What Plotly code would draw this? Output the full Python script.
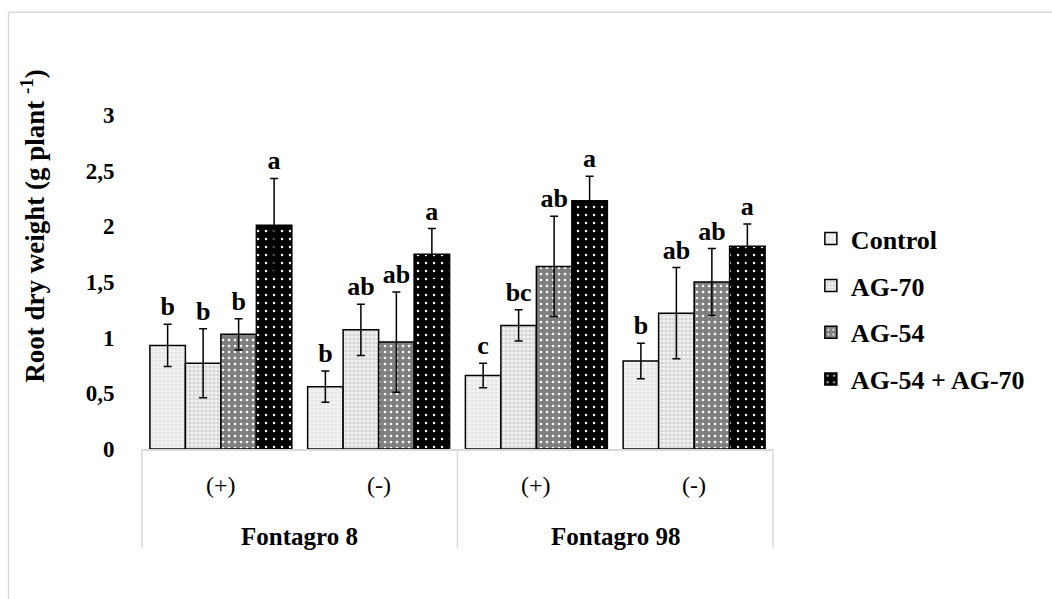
import plotly.graph_objects as go

cultivars = ["Fontagro 8", "Fontagro 8", "Fontagro 98", "Fontagro 98"]
treatments = ["(+)", "(-)", "(+)", "(-)"]
series_names = ["Control", "AG-70", "AG-54", "AG-54 + AG-70"]

control = [0.93, 0.56, 0.66, 0.79]
control_err = [0.19, 0.14, 0.11, 0.16]
control_letters = ["b", "b", "c", "b"]

ag70 = [0.77, 1.07, 1.11, 1.22]
ag70_err = [0.31, 0.23, 0.14, 0.41]
ag70_letters = ["b", "ab", "bc", "ab"]

ag54 = [1.03, 0.96, 1.64, 1.50]
ag54_err = [0.14, 0.45, 0.45, 0.30]
ag54_letters = ["b", "ab", "ab", "ab"]

combo = [2.01, 1.75, 2.23, 1.82]
combo_err = [0.42, 0.23, 0.22, 0.20]
combo_letters = ["a", "a", "a", "a"]

y_tickvals = [0, 0.5, 1, 1.5, 2, 2.5, 3]
y_ticktext = ["0", "0,5", "1", "1,5", "2", "2,5", "3"]

FONT = "Liberation Serif, Times New Roman, serif"
GRAY = "#d9d9d9"

styles = [
    dict(bg="#f5f5f5", fg="#e4e4e4", shape=".", size=4, solidity=0.5),
    dict(bg="#dadada", fg="#f8f8f8", shape=".", size=4, solidity=0.35),
    dict(bg="#7f7f7f", fg="#ffffff", shape=".", size=6, solidity=0.15),
    dict(bg="#000000", fg="#ffffff", shape=".", size=8, solidity=0.08),
]

x_multi = [cultivars, treatments]

data_sets = [
    (control, control_err, control_letters),
    (ag70, ag70_err, ag70_letters),
    (ag54, ag54_err, ag54_letters),
    (combo, combo_err, combo_letters),
]

fig = go.Figure()
for i, (name, (vals, errs, letters), st) in enumerate(zip(series_names, data_sets, styles)):
    fig.add_trace(go.Bar(
        name=name,
        x=x_multi,
        y=vals,
        offsetgroup=str(i),
        legendgroup=str(i),
        marker=dict(
            color=st["bg"],
            line=dict(color="black", width=1.5),
            pattern=dict(shape=st["shape"], fgcolor=st["fg"], bgcolor=st["bg"],
                         size=st["size"], solidity=st["solidity"], fillmode="replace"),
        ),
        error_y=dict(type="data", array=errs, visible=True, color="black",
                     thickness=1.5, width=4),
    ))

for i, (vals, errs, letters) in enumerate(data_sets):
    tops = [v + e for v, e in zip(vals, errs)]
    fig.add_trace(go.Bar(
        x=x_multi,
        y=tops,
        offsetgroup=str(i),
        legendgroup=str(i),
        showlegend=False,
        hoverinfo="skip",
        marker=dict(color="rgba(0,0,0,0)", line=dict(width=0)),
        text=letters,
        textposition="outside",
        textangle=0,
        constraintext="none",
        cliponaxis=False,
        textfont=dict(family=FONT, size=26, color="black", weight="bold"),
    ))

n_cat = len(treatments)
annotations = []
# inner category labels
for i, t in enumerate(treatments):
    annotations.append(dict(
        text=t, xref="paper", yref="paper", x=(i + 0.5) / n_cat, y=-0.108,
        xanchor="center", yanchor="middle", showarrow=False,
        font=dict(family=FONT, size=24, color="black"),
    ))
# outer category labels
outer = []
for c in cultivars:
    if c not in outer:
        outer.append(c)
for j, c in enumerate(outer):
    annotations.append(dict(
        text=c, xref="paper", yref="paper", x=(j + 0.5) / len(outer), y=-0.263,
        xanchor="center", yanchor="middle", showarrow=False,
        font=dict(family=FONT, size=25, color="black", weight="bold"),
    ))
annotations.append(dict(
    text="Root dry weight (g plant <sup>-1</sup>)",
    xref="paper", yref="paper", x=-0.173, y=0.668,
    xanchor="center", yanchor="middle", textangle=-90, showarrow=False,
    font=dict(family=FONT, size=27, color="black", weight="bold"),
))

shapes = [dict(type="rect", xref="paper", yref="paper",
               x0=-0.2116, x1=1.46, y0=-0.5, y1=1.308,
               line=dict(color=GRAY, width=1.5), fillcolor="rgba(0,0,0,0)",
               layer="below")]
for k in range(len(outer) + 1):
    shapes.append(dict(type="line", xref="paper", yref="paper",
                       x0=k / len(outer), x1=k / len(outer), y0=0, y1=-0.296,
                       line=dict(color=GRAY, width=1.5), layer="below"))

fig.update_layout(
    width=1052, height=599,
    margin=dict(l=142, r=279, t=115, b=150),
    paper_bgcolor="white", plot_bgcolor="white",
    barmode="group", bargap=0.1, bargroupgap=0,
    font=dict(family=FONT, color="black"),
    showlegend=True,
    legend=dict(x=1.06, y=0.7, xanchor="left", yanchor="top",
                font=dict(family=FONT, size=26, color="black", weight="bold"),
                tracegroupgap=10, traceorder="grouped",
                bgcolor="rgba(0,0,0,0)", itemclick=False),
    xaxis=dict(
        type="multicategory",
        showline=True, linecolor=GRAY, linewidth=1.5,
        showdividers=False, showticklabels=False,
        showgrid=False, zeroline=False, ticks="",
    ),
    yaxis=dict(
        range=[0, 3], tickvals=y_tickvals, ticktext=y_ticktext,
        showgrid=False, zeroline=False, showline=False,
        tickfont=dict(family=FONT, size=23, color="black", weight="bold"),
        ticks="outside", ticklen=22, tickcolor="rgba(0,0,0,0)",
    ),
    annotations=annotations,
    shapes=shapes,
)

fig.write_html("out.html")
